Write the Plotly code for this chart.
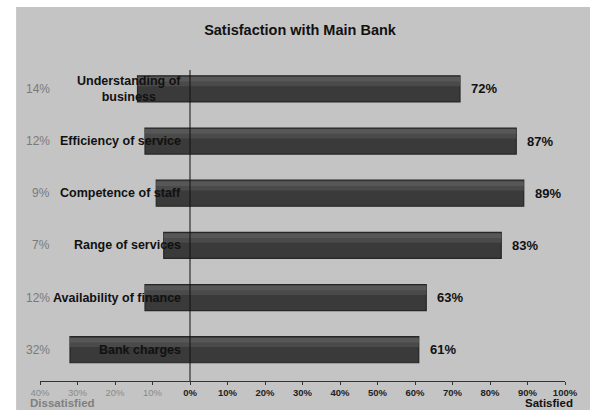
import plotly.graph_objects as go

categories = ["Understanding of<br>business", "Efficiency of service", "Competence of staff",
              "Range of services", "Availability of finance", "Bank charges"]
satisfied = [72, 87, 89, 83, 63, 61]
dissatisfied = [14, 12, 9, 7, 12, 32]
tick_values = list(range(-40, 101, 10))
tick_labels = [f"{abs(v)}%" for v in tick_values]

W, H = 590, 410
ML, MR, MT, MB = 40, 22, 68, 29
PW, PH = W - ML - MR, H - MT - MB
FONT = "Arial, Liberation Sans, sans-serif"
BG = "#c4c4c4"

ypos = list(range(len(categories) - 1, -1, -1))  # first category on top

fig = go.Figure()
widths_colors = [(0.5, "#3a3a3a", -0.25), (0.16, "#4a4a4a", 0.05), (0.09, "#575757", 0.14)]
for i, (w, c, off) in enumerate(widths_colors):
    fig.add_trace(go.Bar(
        y=ypos,
        x=[s + d for s, d in zip(satisfied, dissatisfied)],
        base=[-d for d in dissatisfied],
        orientation="h",
        width=w,
        offset=off,
        marker=dict(color=c, line=dict(color="#262626", width=1.2 if i == 0 else 0)),
        hoverinfo="skip",
        showlegend=False,
    ))

ann = []
for yp, cat, s, d in zip(ypos, categories, satisfied, dissatisfied):
    ann.append(dict(x=-2, y=yp, xref="x", yref="y", text=f"<b>{cat}</b>", showarrow=False,
                    xanchor="right", yanchor="middle", align="center",
                    font=dict(family=FONT, size=12.5, color="#111111")))
    ann.append(dict(x=-36.8, y=yp, xref="x", yref="y", text=f"{d}%", showarrow=False,
                    xanchor="right", yanchor="middle",
                    font=dict(family=FONT, size=12, color="#7a7a7a")))
    ann.append(dict(x=s, y=yp, xref="x", yref="y", text=f"<b>{s}%</b>", showarrow=False,
                    xanchor="left", yanchor="middle", xshift=9,
                    font=dict(family=FONT, size=13, color="#111111")))

ann.append(dict(x=(28 - ML) / PW, y=(MT + PH - 402.5) / PH, xref="paper", yref="paper",
                text="<b>Dissatisfied</b>", showarrow=False, xanchor="left", yanchor="middle",
                font=dict(family=FONT, size=11.5, color="#808080")))
ann.append(dict(x=(578 - ML) / PW, y=(MT + PH - 402.5) / PH, xref="paper", yref="paper",
                text="<b>Satisfied</b>", showarrow=False, xanchor="right", yanchor="middle",
                font=dict(family=FONT, size=11.5, color="#111111")))

ticktext = [f"<span style='color:#8a8a8a'>{t}</span>" if v < 0 else f"<b>{t}</b>"
            for v, t in zip(tick_values, tick_labels)]

shapes = [
    dict(type="line", xref="x", yref="y", x0=0, x1=0, y0=-0.6, y1=5.36,
         line=dict(color="#111111", width=1), layer="above"),
    dict(type="rect", xref="paper", yref="paper", x0=-ML / PW - 0.01, x1=(16 - ML) / PW,
         y0=-MB / PH - 0.01, y1=1 + MT / PH + 0.01, fillcolor="white", line=dict(width=0), layer="above"),
    dict(type="rect", xref="paper", yref="paper", x0=-ML / PW - 0.01, x1=1 + MR / PW + 0.01,
         y0=1 + (MT - 7) / PH, y1=1 + MT / PH + 0.01, fillcolor="white", line=dict(width=0), layer="above"),
]

fig.update_layout(
    width=W, height=H,
    margin=dict(l=ML, r=MR, t=MT, b=MB, pad=0),
    paper_bgcolor=BG, plot_bgcolor=BG,
    barmode="overlay",
    title=dict(text="<b>Satisfaction with Main Bank</b>", x=300 / W, xanchor="center",
               y=(H - 30) / H, yanchor="middle", yref="container",
               font=dict(family=FONT, size=14.5, color="#111111")),
    xaxis=dict(range=[-40, 100], tickvals=tick_values, ticktext=ticktext,
               showgrid=False, zeroline=False, showline=True, linecolor="#333333", linewidth=1,
               ticks="outside", ticklen=3, tickcolor="#333333",
               tickfont=dict(family=FONT, size=9.5, color="#222222"), fixedrange=True),
    yaxis=dict(range=[-0.6, 5.4], showticklabels=False, showgrid=False, zeroline=False,
               showline=False, ticks="", fixedrange=True),
    annotations=ann,
    shapes=shapes,
)

fig.write_html("out.html")
